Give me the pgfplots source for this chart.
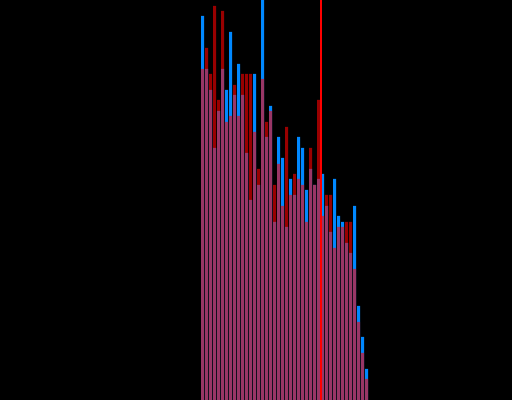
\documentclass[border=0pt]{standalone}
\usepackage{pgfplots}
\pgfplotsset{compat=1.18}
\usepackage{pgfplotstable}
\definecolor{hblue}{RGB}{0,136,255}
\definecolor{hred}{RGB}{255,0,0}
\pgfplotstableread{
x b r
202.5 384 331
206.5 331 352
210.5 310 326
214.5 252 394
218.5 289 300
222.5 331 389
226.5 310 278
230.5 368 284
234.5 305 315
238.5 336 284
242.5 305 326
246.5 247 326
250.5 200 326
254.5 326 268
258.5 215 231
262.5 400 321
266.5 263 278
270.5 294 289
274.5 178 215
278.5 263 236
282.5 242 194
286.5 173 273
290.5 221 205
294.5 205 226
298.5 263 221
302.5 252 215
306.5 210 178
310.5 231 252
314.5 215 215
318.5 221 300
322.5 226 184
326.5 194 205
330.5 168 205
334.5 221 152
338.5 184 173
342.5 178 173
346.5 157 178
350.5 147 178
354.5 194 131
358.5 94 78
362.5 63 47
366.5 31 21
}\hist
\begin{document}
\begin{tikzpicture}
\begin{axis}[
  scale only axis,
  width=5.12in, height=4in,
  xmin=0, xmax=512, ymin=0, ymax=400,
  axis lines=none,
  axis background/.style={fill=black},
  clip=true,
]
\addplot[ybar, bar width=3, bar shift=0pt, fill=hblue, draw=none] table[x=x, y=b] {\hist};
\addplot[ybar, bar width=3, bar shift=0pt, fill=hred, fill opacity=0.6, draw=none] table[x=x, y=r] {\hist};
\addplot[hred, line width=1.4pt] coordinates {(321,0) (321,400)};
\end{axis}
\end{tikzpicture}
\end{document}
